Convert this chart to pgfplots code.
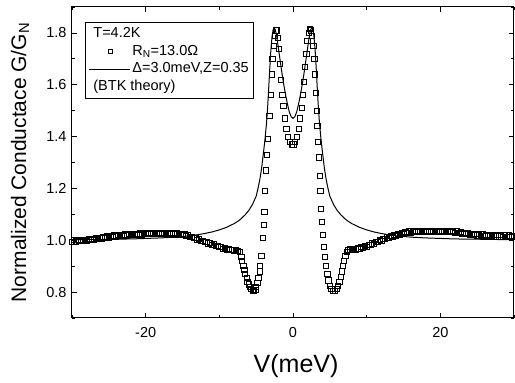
\documentclass[border=0pt]{standalone}
\usepackage{fontspec}
\setmainfont{Liberation Sans}
\usepackage{pgfplots}
\pgfplotsset{compat=1.18}
\begin{document}
\begin{tikzpicture}
\path[use as bounding box] (-72pt,-65pt) rectangle (443pt,318pt);
\begin{axis}[
  scale only axis, width=442pt, height=311pt,
  xmin=-30, xmax=30, ymin=0.7, ymax=1.9,
  xtick={-20,0,20}, xticklabels={-20,0,20},
  minor xtick={-30,-10,10,30},
  ytick={0.8,1.0,1.2,1.4,1.6,1.8}, yticklabels={0.8,1.0,1.2,1.4,1.6,1.8},
  minor ytick={0.7,0.9,1.1,1.3,1.5,1.7,1.9},
  tick align=inside, major tick length=5pt, minor tick length=3pt,
  every tick/.style={black, line width=0.8pt},
  axis line style={line width=1pt},
  tick label style={font=\fontsize{14.5}{17}\selectfont},
  xticklabel style={yshift=-6pt},
  yticklabel style={xshift=-2pt},
  xlabel={V(meV)},
  ylabel={Normalized Conductace G/G\textsubscript{N}},
  xlabel style={font=\fontsize{25}{28}\selectfont, at={(axis description cs:0.507,-0.155)}, anchor=center},
  ylabel style={font=\fontsize{21}{24}\selectfont, at={(axis description cs:-0.1176,0.5)}, anchor=center},
  legend cell align=left,
  legend style={at={(axis description cs:0.0294,0.952)}, anchor=north west,
    draw=black, line width=0.8pt, inner sep=3.5pt, row sep=0.5pt,
    font=\fontsize{14.5}{17}\selectfont,
    nodes={inner sep=1.5pt, text height=10.5pt, text depth=3.5pt}},
]
\addplot[only marks, mark=square, mark size=2.6pt, mark options={line width=0.7pt, fill=white}, forget plot] table {
-30.0 0.995
-29.75 1.000
-29.5 0.996
-29.25 1.001
-29.0 0.997
-28.75 1.002
-28.5 0.998
-28.25 1.003
-28.0 0.999
-27.75 1.004
-27.5 1.000
-27.25 1.006
-27.0 1.002
-26.75 1.008
-26.5 1.004
-26.25 1.010
-26.0 1.007
-25.75 1.013
-25.5 1.009
-25.25 1.015
-25.0 1.011
-24.75 1.017
-24.5 1.013
-24.25 1.019
-24.0 1.015
-23.75 1.020
-23.5 1.017
-23.25 1.022
-23.0 1.018
-22.75 1.023
-22.5 1.019
-22.25 1.024
-22.0 1.020
-21.75 1.025
-21.5 1.021
-21.25 1.026
-21.0 1.022
-20.75 1.027
-20.5 1.023
-20.25 1.028
-20.0 1.024
-19.75 1.029
-19.5 1.024
-19.25 1.029
-19.0 1.025
-18.75 1.030
-18.5 1.025
-18.25 1.030
-18.0 1.025
-17.75 1.030
-17.5 1.025
-17.25 1.030
-17.0 1.025
-16.75 1.029
-16.5 1.024
-16.25 1.028
-16.0 1.023
-15.75 1.027
-15.5 1.022
-15.25 1.025
-15.0 1.020
-14.75 1.023
-14.5 1.017
-14.25 1.019
-14.0 1.013
-13.75 1.014
-13.5 1.008
-13.25 1.009
-13.0 1.003
-12.75 1.004
-12.5 0.998
-12.25 0.999
-12.0 0.993
-11.75 0.994
-11.5 0.988
-11.25 0.989
-11.0 0.983
-10.75 0.984
-10.5 0.978
-10.25 0.979
-10.0 0.973
-9.75 0.974
-9.5 0.968
-9.25 0.970
-9.0 0.964
-8.75 0.966
-8.5 0.962
-8.25 0.964
-8.0 0.961
-7.75 0.963
-7.5 0.958
-7.25 0.955
-7.0 0.935
-6.9 0.920
-6.75 0.900
-6.6 0.885
-6.5 0.870
-6.3 0.855
-6.2 0.840
-6.0 0.830
-5.9 0.820
-5.7 0.812
-5.5 0.805
-5.3 0.805
-5.1 0.810
-5.0 0.820
-4.85 0.835
-4.7 0.855
-4.55 0.880
-4.45 0.900
-4.3 0.940
-4.1 1.010
-4.0 1.060
-3.9 1.110
-3.8 1.190
-3.65 1.270
-3.5 1.330
-3.4 1.390
-3.2 1.480
-3.05 1.560
-2.9 1.640
-2.8 1.700
-2.65 1.750
-2.5 1.790
-2.35 1.810
-2.2 1.810
-2.05 1.780
-1.9 1.740
-1.75 1.680
-1.6 1.620
-1.45 1.560
-1.3 1.520
-1.1 1.470
-0.9 1.430
-0.7 1.400
-0.45 1.380
-0.2 1.370
0.05 1.370
0.3 1.380
0.55 1.400
0.75 1.430
0.95 1.470
1.15 1.510
1.35 1.560
1.5 1.610
1.65 1.670
1.8 1.720
1.95 1.770
2.1 1.800
2.3 1.815
2.45 1.810
2.6 1.790
2.75 1.750
2.9 1.700
3.0 1.640
3.1 1.570
3.2 1.500
3.3 1.440
3.4 1.380
3.5 1.320
3.6 1.250
3.7 1.190
3.8 1.120
3.9 1.070
4.05 1.020
4.2 0.975
4.35 0.935
4.5 0.900
4.65 0.870
4.8 0.845
5.0 0.825
5.2 0.812
5.45 0.805
5.7 0.805
5.9 0.812
6.1 0.825
6.3 0.840
6.5 0.860
6.65 0.880
6.8 0.900
6.95 0.920
7.1 0.940
7.3 0.955
7.5 0.962
7.75 0.965
8.0 0.963
8.25 0.966
8.5 0.965
8.75 0.969
9.0 0.968
9.25 0.973
9.5 0.971
9.75 0.977
10.0 0.976
10.25 0.982
10.5 0.981
10.75 0.988
11.0 0.987
11.25 0.994
11.5 0.993
11.75 1.000
12.0 0.999
12.25 1.006
12.5 1.004
12.75 1.011
13.0 1.009
13.25 1.016
13.5 1.014
13.75 1.021
14.0 1.018
14.25 1.025
14.5 1.022
14.75 1.029
15.0 1.025
15.25 1.032
15.5 1.028
15.75 1.034
16.0 1.030
16.25 1.036
16.5 1.031
16.75 1.037
17.0 1.032
17.25 1.037
17.5 1.032
17.75 1.037
18.0 1.032
18.25 1.037
18.5 1.032
18.75 1.037
19.0 1.032
19.25 1.037
19.5 1.032
19.75 1.037
20.0 1.032
20.25 1.037
20.5 1.032
20.75 1.036
21.0 1.032
21.25 1.036
21.5 1.031
21.75 1.035
22.0 1.030
22.25 1.034
22.5 1.028
22.75 1.032
23.0 1.026
23.25 1.030
23.5 1.024
23.75 1.028
24.0 1.022
24.25 1.026
24.5 1.020
24.75 1.025
25.0 1.019
25.25 1.024
25.5 1.018
25.75 1.023
26.0 1.017
26.25 1.022
26.5 1.016
26.75 1.021
27.0 1.016
27.25 1.021
27.5 1.015
27.75 1.020
28.0 1.015
28.25 1.020
28.5 1.014
28.75 1.019
29.0 1.014
29.25 1.019
29.5 1.014
29.75 1.018
30.0 1.014
};
\addplot[black, line width=1pt, forget plot] table {
-30.0 1.002
-25.0 1.004
-22.0 1.005
-20.0 1.007
-18.0 1.009
-16.0 1.012
-14.0 1.017
-13.0 1.021
-12.0 1.026
-11.0 1.032
-10.0 1.040
-9.0 1.050
-8.0 1.064
-7.5 1.073
-7.0 1.084
-6.5 1.098
-6.0 1.115
-5.5 1.138
-5.0 1.170
-4.75 1.200
-4.5 1.235
-4.25 1.280
-4.0 1.340
-3.8 1.390
-3.6 1.450
-3.45 1.510
-3.3 1.585
-3.15 1.665
-3.0 1.735
-2.85 1.785
-2.7 1.812
-2.55 1.820
-2.4 1.812
-2.2 1.785
-2.0 1.745
-1.75 1.695
-1.5 1.645
-1.25 1.600
-1.0 1.560
-0.75 1.525
-0.5 1.495
-0.25 1.477
0.0 1.470
0.25 1.477
0.5 1.495
0.75 1.525
1.0 1.560
1.25 1.600
1.5 1.645
1.75 1.695
2.0 1.745
2.2 1.785
2.4 1.812
2.55 1.820
2.7 1.812
2.85 1.785
3.0 1.735
3.15 1.665
3.3 1.585
3.45 1.510
3.6 1.450
3.8 1.390
4.0 1.340
4.25 1.280
4.5 1.235
4.75 1.200
5.0 1.170
5.5 1.138
6.0 1.115
6.5 1.098
7.0 1.084
7.5 1.073
8.0 1.064
9.0 1.050
10.0 1.040
11.0 1.032
12.0 1.026
13.0 1.021
14.0 1.017
16.0 1.012
18.0 1.009
20.0 1.007
22.0 1.005
25.0 1.004
30.0 1.002
};
\addlegendimage{empty legend}
\addlegendentry{\hspace{-39pt}T=4.2K}
\addlegendimage{legend image code/.code={\draw[mark=square, mark size=2pt, line width=0.7pt] plot coordinates {(16pt,0pt)};}}
\addlegendentry{R\textsubscript{N}=13.0Ω}
\addlegendimage{legend image code/.code={\draw[black, line width=1pt] (-5pt,0pt) -- (36pt,0pt);}}
\addlegendentry{Δ=3.0meV,Z=0.35\hspace{27pt}}
\addlegendimage{empty legend}
\addlegendentry{\hspace{-39pt}(BTK theory)}
\end{axis}
\end{tikzpicture}
\end{document}
